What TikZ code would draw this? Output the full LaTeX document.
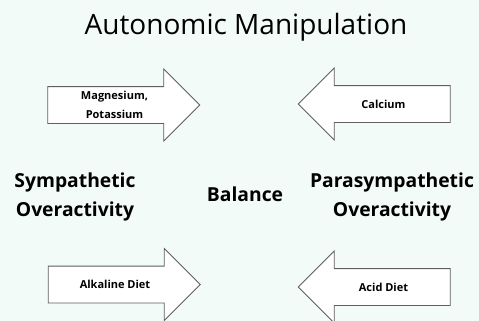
\documentclass[tikz,border=0pt]{standalone}
\usepackage{fontspec}
\setmainfont{Open Sans}
\usetikzlibrary{shapes.arrows}
\definecolor{fond}{RGB}{243,251,249}
\definecolor{trait}{RGB}{95,95,95}

\begin{document}
\begin{tikzpicture}[x=1pt,y=1pt]
      \tikzstyle{fleche}=[single arrow, draw=trait, fill=white, line width=0.8pt, inner sep=0pt, minimum height=152pt, single arrow head extend=17.5pt, single arrow tip angle=90, font=\bfseries\fontsize{11}{19}\selectfont]
      \tikzstyle{gauche}=[fleche, shape border rotate=180]
      \tikzstyle{etat}=[align=center, inner sep=0pt, font=\bfseries\fontsize{19.3}{29}\selectfont]

      \fill[fond] (0,0) rectangle (479,-321);
      \useasboundingbox (0,0) rectangle (479,-321);

      \node[anchor=base, font=\fontsize{28}{34}\selectfont] (Titre) at (246,-35) {Autonomic Manipulation};
      \node[fleche] (MgK) at (114.5,-105) {\parbox[c][36pt][c]{80pt}{\centering Magnesium,\\ Potassium}};
      \node[gauche] (Ca) at (383.5,-104) {\parbox[c][36pt][c]{80pt}{\centering Calcium}};
      \node[fleche] (Alc) at (115,-284.5) {\parbox[c][36pt][c]{80pt}{\centering Alkaline Diet}};
      \node[gauche] (Acid) at (383.5,-287) {\parbox[c][36pt][c]{80pt}{\centering Acid Diet}};
      \node[etat] (Symp) at (75,-197) {Sympathetic\\Overactivity};
      \node[etat] (Bal) at (245,-194) {Balance};
      \node[etat] (Para) at (392,-197) {Parasympathetic\\Overactivity};

    \end{tikzpicture}
\end{document}
